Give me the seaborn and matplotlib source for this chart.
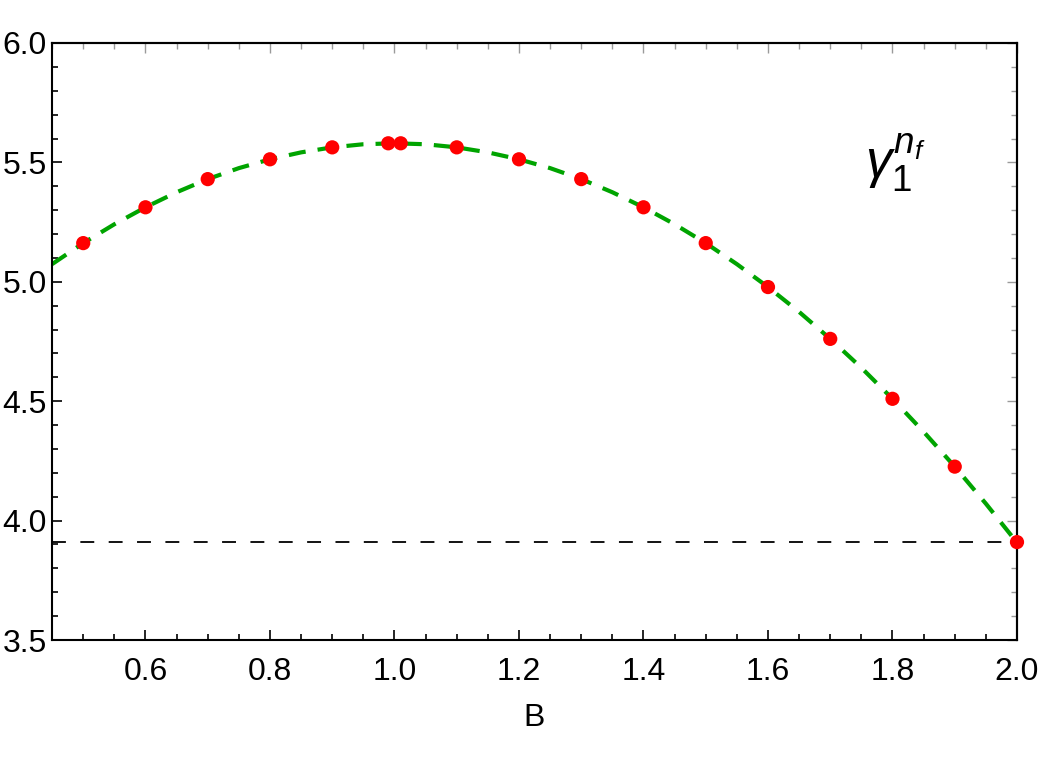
import matplotlib
matplotlib.use("Agg")
import matplotlib.pyplot as plt
from matplotlib.ticker import MultipleLocator, NullFormatter
import seaborn as sns
import pandas as pd

# Data points (red dots)
B_points = [0.5, 0.6, 0.7, 0.8, 0.9, 0.99, 1.01, 1.1, 1.2, 1.3, 1.4, 1.5, 1.6, 1.7, 1.8, 1.9, 2.0]
gamma_points = [5.162, 5.312, 5.430, 5.513, 5.563, 5.580, 5.580, 5.563, 5.513, 5.430, 5.312,
                5.162, 4.978, 4.761, 4.510, 4.226, 3.910]

# Fitted curve samples (green dashed)
B_curve = [0.45, 0.50, 0.55, 0.60, 0.65, 0.70, 0.75, 0.80, 0.85, 0.90, 0.95, 1.00,
           1.05, 1.10, 1.15, 1.20, 1.25, 1.30, 1.35, 1.40, 1.45, 1.50, 1.55, 1.60,
           1.65, 1.70, 1.75, 1.80, 1.85, 1.90, 1.95, 2.00]
gamma_curve = [5.074, 5.162, 5.241, 5.312, 5.375, 5.430, 5.476, 5.513, 5.542, 5.563, 5.576, 5.580,
               5.576, 5.563, 5.542, 5.513, 5.476, 5.430, 5.375, 5.312, 5.241, 5.162, 5.074, 4.978,
               4.874, 4.761, 4.640, 4.510, 4.372, 4.226, 4.071, 3.908]

ref_level = 3.91

x_ticks = [0.6, 0.8, 1.0, 1.2, 1.4, 1.6, 1.8, 2.0]
x_labels = ["0.6", "0.8", "1.0", "1.2", "1.4", "1.6", "1.8", "2.0"]
y_ticks = [3.5, 4.0, 4.5, 5.0, 5.5, 6.0]
y_labels = ["3.5", "4.0", "4.5", "5.0", "5.5", "6.0"]

sns.set_style("ticks")
plt.rcParams['font.family'] = ['Liberation Sans', 'DejaVu Sans']
plt.rcParams['mathtext.fontset'] = 'custom'
plt.rcParams['mathtext.rm'] = 'Liberation Sans'
plt.rcParams['mathtext.it'] = 'Liberation Sans:italic'
plt.rcParams['text.color'] = 'black'
plt.rcParams['axes.labelcolor'] = 'black'

fig = plt.figure(figsize=(10.42, 7.61), dpi=100)
ax = fig.add_axes([0.050, 0.159, 0.926, 0.7845])

df_curve = pd.DataFrame({"B": B_curve, "g": gamma_curve})
df_pts = pd.DataFrame({"B": B_points, "g": gamma_points})

ax.axhline(ref_level, color="black", lw=1.3, dashes=(7.7, 8), zorder=1)
sns.lineplot(data=df_curve, x="B", y="g", ax=ax, color="#00A400", lw=3,
             dashes=False, zorder=2)
ax.lines[-1].set_dashes((4.1, 2.9))
sns.scatterplot(data=df_pts, x="B", y="g", ax=ax, color="#FF0000", s=105,
                edgecolor="none", zorder=3, clip_on=False)

ax.set_xlim(0.45, 2.0)
ax.set_ylim(3.5, 6.0)
ax.xaxis.set_minor_locator(MultipleLocator(0.05))
ax.yaxis.set_minor_locator(MultipleLocator(0.1))
ax.set_xticks(x_ticks)
ax.set_xticklabels(x_labels)
ax.set_yticks(y_ticks)
ax.set_yticklabels(y_labels)

ax.tick_params(which="both", direction="in", top=False, right=False, labelsize=23,
               colors="black", labelcolor="black", width=1.2)
ax.tick_params(which="major", length=7)
ax.tick_params(which="minor", length=4)
ax.tick_params(axis="x", which="major", pad=12)
ax.tick_params(axis="y", which="major", pad=4)
for s in ax.spines.values():
    s.set_linewidth(1.5)
    s.set_color("black")

# faint ticks on top and right frame edges
top = ax.secondary_xaxis("top")
top.set_xticks(x_ticks)
top.xaxis.set_minor_locator(MultipleLocator(0.05))
top.xaxis.set_major_formatter(NullFormatter())
top.tick_params(which="both", direction="in", color="#9a9a9a", width=1.0)
top.tick_params(which="major", length=7)
top.tick_params(which="minor", length=4)
top.spines["top"].set_linewidth(1.5)
top.spines["top"].set_color("black")

right = ax.secondary_yaxis("right")
right.set_yticks(y_ticks)
right.yaxis.set_minor_locator(MultipleLocator(0.1))
right.yaxis.set_major_formatter(NullFormatter())
right.tick_params(which="both", direction="in", color="#9a9a9a", width=1.0)
right.tick_params(which="major", length=7)
right.tick_params(which="minor", length=4)
right.spines["right"].set_linewidth(1.5)
right.spines["right"].set_color("black")

ax.set_xlabel("B", fontsize=23, labelpad=12, color="black")
ax.set_ylabel("")

ax.text(0.874, 0.80, r'$\gamma_1^{n_f}$', transform=ax.transAxes, fontsize=38,
        ha="center", va="center", color="black")

fig.savefig("out.png", dpi=100)
